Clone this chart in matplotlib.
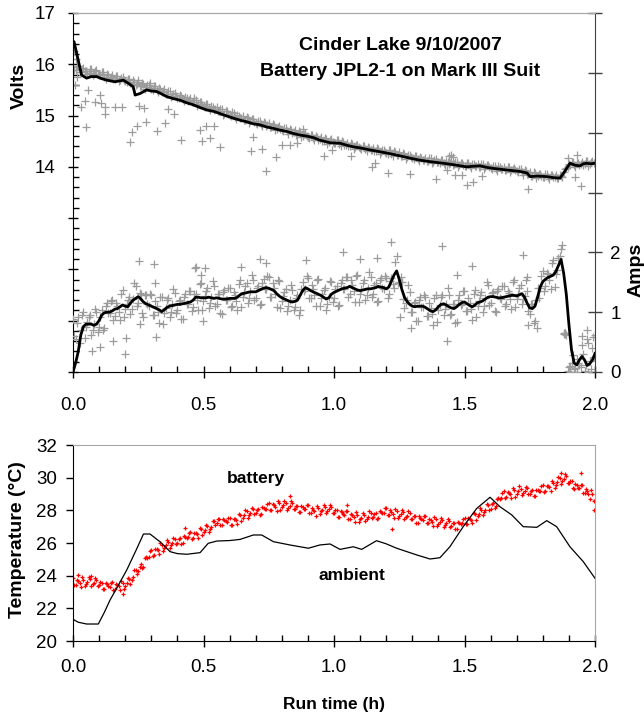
import numpy as np
import matplotlib
matplotlib.use("Agg")
import matplotlib.pyplot as plt
from matplotlib.ticker import FixedLocator, MultipleLocator, FuncFormatter, FormatStrFormatter

plt.rcParams['font.family'] = ['Liberation Sans', 'DejaVu Sans']

# ---------------- data ----------------
t_grid = np.round(np.arange(0, 201) * 0.01, 3)          # 0.00 .. 2.00 h
t_half = np.round(t_grid[:-1] + 0.005, 3)               # 0.005 .. 1.995 h

volt_line = [(0.0, 16.45), (0.004, 16.44), (0.02, 16.08), (0.033, 15.79), (0.052, 15.73),
             (0.07, 15.76), (0.09, 15.76), (0.11, 15.72), (0.13, 15.69), (0.161, 15.66),
             (0.193, 15.69), (0.215, 15.62), (0.231, 15.56), (0.238, 15.40), (0.257, 15.43),
             (0.282, 15.50), (0.30, 15.48), (0.32, 15.47), (0.34, 15.42), (0.359, 15.37),
             (0.385, 15.33), (0.41, 15.30), (0.435, 15.25), (0.461, 15.21), (0.49, 15.15),
             (0.512, 15.11), (0.54, 15.08), (0.563, 15.04), (0.59, 14.99), (0.614, 14.95),
             (0.64, 14.91), (0.665, 14.88), (0.69, 14.84), (0.716, 14.82), (0.74, 14.78),
             (0.768, 14.75), (0.79, 14.72), (0.819, 14.69), (0.845, 14.65), (0.87, 14.62),
             (0.895, 14.60), (0.921, 14.57), (0.946, 14.52), (0.985, 14.47), (1.023, 14.46),
             (1.05, 14.42), (1.074, 14.39), (1.10, 14.37), (1.138, 14.33), (1.17, 14.30),
             (1.202, 14.27), (1.23, 14.24), (1.266, 14.20), (1.30, 14.16), (1.33, 14.13),
             (1.37, 14.10), (1.419, 14.07), (1.46, 14.04), (1.508, 14.00), (1.53, 14.01),
             (1.559, 14.02), (1.585, 13.99), (1.61, 13.97), (1.66, 13.94), (1.713, 13.91),
             (1.74, 13.88), (1.751, 13.81), (1.78, 13.82), (1.815, 13.81), (1.84, 13.79),
             (1.866, 13.78), (1.885, 13.92), (1.904, 14.07), (1.925, 14.03), (1.943, 14.02),
             (1.955, 14.06), (1.968, 14.07), (1.985, 14.06), (2.0, 14.07)]

volt_band = [15.95, 15.88, 15.97, 15.85, 15.92, 15.86, 15.83, 15.90, 15.82, 15.88,
             15.80, 15.85, 15.76, 15.82, 15.74, 15.79, 15.72, 15.78, 15.70, 15.76,
             15.68, 15.72, 15.64, 15.70, 15.60, 15.66, 15.57, 15.62, 15.55, 15.60,
             15.52, 15.57, 15.50, 15.54, 15.46, 15.51, 15.42, 15.47, 15.39, 15.44,
             15.35, 15.40, 15.32, 15.37, 15.29, 15.34, 15.26, 15.30, 15.22, 15.27,
             15.18, 15.23, 15.14, 15.19, 15.11, 15.16, 15.08, 15.12, 15.04, 15.09,
             15.01, 15.06, 14.98, 15.02, 14.95, 15.00, 14.92, 14.96, 14.89, 14.94,
             14.86, 14.90, 14.83, 14.88, 14.80, 14.85, 14.77, 14.82, 14.74, 14.79,
             14.71, 14.76, 14.69, 14.73, 14.66, 14.71, 14.63, 14.68, 14.61, 14.66,
             14.59, 14.63, 14.56, 14.61, 14.53, 14.58, 14.51, 14.55, 14.49, 14.54,
             14.47, 14.52, 14.45, 14.50, 14.43, 14.47, 14.40, 14.45, 14.38, 14.43,
             14.36, 14.41, 14.34, 14.39, 14.33, 14.37, 14.31, 14.35, 14.29, 14.33,
             14.27, 14.32, 14.25, 14.30, 14.23, 14.28, 14.21, 14.26, 14.19, 14.24,
             14.17, 14.22, 14.15, 14.20, 14.13, 14.18, 14.12, 14.17, 14.10, 14.15,
             14.09, 14.14, 14.07, 14.12, 14.06, 14.11, 14.05, 14.09, 14.03, 14.08,
             14.02, 14.07, 14.02, 14.06, 14.01, 14.06, 14.00, 14.05, 13.99, 14.04,
             13.98, 14.02, 13.96, 14.01, 13.95, 14.00, 13.94, 13.99, 13.93, 13.97,
             13.92, 13.96, 13.90, 13.94, 13.86, 13.90, 13.83, 13.88, 13.82, 13.87,
             13.81, 13.86, 13.80, 13.85, 13.80, 13.84, 13.79, 13.83, 13.90, 13.98,
             14.06, 14.10, 14.04, 14.08, 14.03, 14.10, 14.05, 14.11, 14.06, 14.12,
             14.08]

volt_band_b = [15.88, 15.96, 15.84, 15.90, 15.87, 15.81, 15.90, 15.79, 15.86, 15.82,
               15.79, 15.84, 15.72, 15.79, 15.75, 15.72, 15.78, 15.67, 15.74, 15.70,
               15.66, 15.71, 15.60, 15.66, 15.61, 15.58, 15.63, 15.52, 15.59, 15.54,
               15.50, 15.57, 15.45, 15.51, 15.47, 15.43, 15.47, 15.36, 15.43, 15.38,
               15.34, 15.39, 15.28, 15.34, 15.30, 15.26, 15.31, 15.19, 15.26, 15.21,
               15.17, 15.22, 15.10, 15.16, 15.12, 15.08, 15.13, 15.01, 15.08, 15.03,
               15.00, 15.05, 14.93, 15.00, 14.96, 14.92, 14.97, 14.86, 14.93, 14.88,
               14.84, 14.90, 14.79, 14.85, 14.81, 14.77, 14.83, 14.71, 14.78, 14.73,
               14.70, 14.76, 14.64, 14.71, 14.67, 14.63, 14.69, 14.58, 14.65, 14.61,
               14.57, 14.63, 14.52, 14.58, 14.54, 14.51, 14.56, 14.45, 14.53, 14.49,
               14.46, 14.52, 14.41, 14.48, 14.43, 14.40, 14.46, 14.35, 14.42, 14.38,
               14.35, 14.41, 14.30, 14.37, 14.33, 14.30, 14.36, 14.25, 14.32, 14.28,
               14.26, 14.32, 14.21, 14.28, 14.24, 14.21, 14.27, 14.16, 14.23, 14.19,
               14.16, 14.22, 14.11, 14.18, 14.14, 14.11, 14.18, 14.07, 14.14, 14.10,
               14.08, 14.14, 14.03, 14.10, 14.07, 14.04, 14.10, 13.99, 14.07, 14.03,
               14.01, 14.08, 13.97, 14.05, 14.02, 13.99, 14.06, 13.95, 14.03, 13.99,
               13.96, 14.02, 13.92, 13.99, 13.96, 13.93, 14.00, 13.89, 13.96, 13.93,
               13.90, 13.96, 13.85, 13.91, 13.86, 13.83, 13.89, 13.78, 13.86, 13.82,
               13.80, 13.86, 13.76, 13.84, 13.80, 13.78, 13.84, 13.80, 13.95, 14.00,
               14.04, 14.10, 13.99, 14.07, 14.05, 14.04, 14.11, 14.02, 14.10, 14.08]

volt_outliers = [(0.005, 16.25), (0.01, 16.10), (0.015, 15.75), (0.008, 15.60),
                 (0.051, 14.78), (0.032, 15.16), (0.057, 15.49), (0.047, 15.29), (0.083, 15.27),
                 (0.102, 15.40), (0.108, 15.25), (0.121, 15.16), (0.124, 15.03), (0.16, 15.17),
                 (0.189, 15.17), (0.217, 14.48), (0.227, 14.67), (0.245, 14.80), (0.252, 15.19),
                 (0.272, 15.15), (0.281, 14.88), (0.249, 15.69), (0.296, 15.63), (0.323, 14.70),
                 (0.354, 14.85), (0.364, 15.13), (0.386, 15.03), (0.415, 14.52), (0.464, 15.34),
                 (0.487, 14.71), (0.494, 14.50), (0.511, 14.80), (0.524, 14.56), (0.54, 14.80),
                 (0.564, 14.39), (0.691, 14.59), (0.682, 14.30), (0.723, 14.34), (0.738, 13.91),
                 (0.777, 14.20), (0.80, 14.43), (0.831, 14.43), (0.857, 14.46), (0.882, 14.73),
                 (0.963, 14.22), (0.994, 14.33), (1.065, 14.21), (1.147, 14.00), (1.157, 14.07),
                 (1.206, 13.88), (1.29, 13.86), (1.391, 13.76), (1.464, 13.84), (1.489, 13.84),
                 (1.508, 13.65), (1.534, 13.71), (1.566, 13.82), (1.432, 13.93), (1.745, 13.56),
                 (1.898, 14.17), (1.93, 14.23), (1.923, 13.81), (1.945, 13.63), (1.457, 14.20),
                 (1.44, 14.22), (1.45, 14.24)]

amp_line = [0.00, 0.15, 0.34, 0.62, 0.76, 0.80, 0.80, 0.80, 0.78, 0.80,
            0.86, 0.95, 0.99, 1.00, 1.00, 1.02, 1.05, 1.06, 1.09, 1.12,
            1.10, 1.09, 1.15, 1.20, 1.23, 1.26, 1.22, 1.17, 1.14, 1.12,
            1.10, 1.08, 1.06, 1.04, 1.01, 1.04, 1.08, 1.10, 1.11, 1.12,
            1.13, 1.13, 1.14, 1.15, 1.16, 1.17, 1.20, 1.25, 1.25, 1.24,
            1.24, 1.24, 1.25, 1.24, 1.23, 1.24, 1.23, 1.22, 1.22, 1.22,
            1.23, 1.23, 1.23, 1.25, 1.29, 1.31, 1.32, 1.33, 1.34, 1.34,
            1.34, 1.36, 1.38, 1.40, 1.41, 1.40, 1.38, 1.36, 1.31, 1.27,
            1.24, 1.22, 1.20, 1.18, 1.17, 1.18, 1.20, 1.28, 1.36, 1.41,
            1.39, 1.36, 1.34, 1.32, 1.30, 1.28, 1.25, 1.22, 1.24, 1.30,
            1.33, 1.35, 1.37, 1.39, 1.40, 1.41, 1.43, 1.41, 1.39, 1.37,
            1.36, 1.37, 1.38, 1.39, 1.39, 1.40, 1.41, 1.43, 1.42, 1.41,
            1.39, 1.42, 1.52, 1.62, 1.69, 1.55, 1.38, 1.25, 1.18, 1.13,
            1.10, 1.09, 1.10, 1.10, 1.10, 1.08, 1.05, 1.02, 1.01, 1.04,
            1.09, 1.13, 1.14, 1.12, 1.09, 1.07, 1.06, 1.09, 1.13, 1.16,
            1.17, 1.14, 1.11, 1.09, 1.12, 1.16, 1.17, 1.19, 1.22, 1.25,
            1.26, 1.26, 1.25, 1.24, 1.24, 1.25, 1.26, 1.27, 1.28, 1.28,
            1.27, 1.29, 1.31, 1.25, 1.15, 1.07, 1.06, 1.10, 1.25, 1.42,
            1.51, 1.55, 1.58, 1.60, 1.62, 1.68, 1.78, 1.88, 1.65, 1.30,
            0.80, 0.37, 0.15, 0.12, 0.20, 0.26, 0.20, 0.11, 0.14, 0.20,
            0.31]

amp_pts_a = [0.88, 0.55, 0.92, 0.70, 1.01, 0.75, 0.92, 0.62, 0.80, 1.00,
             0.76, 1.03, 0.74, 1.15, 0.98, 1.20, 0.93, 1.11, 0.87, 1.37,
             1.05, 1.21, 0.97, 1.22, 1.43, 1.16, 1.30, 0.92, 1.29, 1.10,
             1.28, 0.96, 1.11, 0.82, 1.26, 0.99, 1.20, 0.92, 1.13, 1.32,
             1.03, 1.21, 0.89, 1.30, 1.14, 1.35, 1.08, 1.30, 1.03, 1.49,
             1.19, 1.36, 1.07, 1.26, 1.43, 1.14, 1.31, 0.97, 1.37, 1.20,
             1.41, 1.11, 1.28, 1.03, 1.54, 1.26, 1.44, 1.15, 1.36, 1.54,
             1.24, 1.44, 1.13, 1.55, 1.39, 1.58, 1.26, 1.41, 1.09, 1.52,
             1.19, 1.34, 1.02, 1.20, 1.37, 1.08, 1.28, 1.03, 1.51, 1.39,
             1.57, 1.24, 1.39, 1.10, 1.55, 1.23, 1.37, 1.04, 1.26, 1.50,
             1.23, 1.43, 1.12, 1.54, 1.38, 1.59, 1.31, 1.46, 1.17, 1.62,
             1.31, 1.49, 1.20, 1.41, 1.59, 1.30, 1.49, 1.18, 1.57, 1.39,
             1.57, 1.30, 1.57, 1.40, 1.94, 1.50, 1.50, 1.07, 1.20, 1.33,
             1.00, 1.17, 0.85, 1.25, 1.08, 1.26, 0.93, 1.07, 0.79, 1.29,
             1.04, 1.25, 0.96, 1.14, 1.29, 0.97, 1.14, 0.84, 1.28, 1.14,
             1.35, 1.02, 1.16, 0.87, 1.37, 1.11, 1.29, 1.01, 1.24, 1.45,
             1.16, 1.34, 1.00, 1.39, 1.22, 1.43, 1.14, 1.32, 1.06, 1.53,
             1.22, 1.41, 1.13, 1.27, 1.35, 0.97, 1.14, 0.85, 1.40, 1.40,
             1.69, 1.43, 1.63, 1.38, 1.87, 1.63, 1.90, 2.05, 0.64, 0.62,
             0.08, 0.15, 0.05, 0.22, 0.12, 0.45, 0.02, 0.55, 0.18, 0.40,
             0.62]

amp_pts_b = [0.60, 0.82, 0.48, 0.95, 0.56, 0.83, 0.96, 0.71, 1.06, 0.67,
             0.92, 0.71, 1.10, 0.99, 1.19, 0.87, 1.15, 1.01, 1.31, 0.92,
             1.13, 1.25, 1.06, 1.48, 1.10, 1.32, 0.98, 1.28, 1.13, 1.31,
             0.95, 1.18, 1.01, 1.26, 0.81, 1.07, 1.24, 1.01, 1.39, 0.99,
             1.19, 0.89, 1.25, 1.14, 1.35, 1.02, 1.30, 1.20, 1.47, 1.04,
             1.27, 1.40, 1.16, 1.52, 1.10, 1.30, 0.99, 1.33, 1.21, 1.41,
             1.08, 1.33, 1.18, 1.47, 1.09, 1.34, 1.48, 1.24, 1.62, 1.21,
             1.40, 1.12, 1.49, 1.39, 1.60, 1.25, 1.48, 1.31, 1.53, 1.07,
             1.27, 1.38, 1.11, 1.46, 1.04, 1.24, 0.96, 1.39, 1.35, 1.60,
             1.24, 1.46, 1.29, 1.54, 1.10, 1.31, 1.41, 1.13, 1.52, 1.17,
             1.39, 1.11, 1.48, 1.38, 1.59, 1.26, 1.53, 1.36, 1.61, 1.17,
             1.39, 1.53, 1.29, 1.67, 1.26, 1.46, 1.17, 1.54, 1.41, 1.60,
             1.24, 1.52, 1.47, 1.84, 1.49, 1.58, 1.22, 1.16, 1.46, 1.00,
             1.16, 0.85, 1.21, 1.09, 1.29, 0.93, 1.15, 0.97, 1.23, 0.84,
             1.12, 1.29, 1.05, 1.40, 0.96, 1.13, 0.82, 1.20, 1.12, 1.35,
             1.02, 1.24, 1.06, 1.31, 0.92, 1.19, 1.33, 1.10, 1.50, 1.12,
             1.32, 1.02, 1.36, 1.23, 1.43, 1.10, 1.36, 1.22, 1.50, 1.08,
             1.30, 1.45, 1.22, 1.53, 1.02, 1.13, 0.82, 1.21, 1.24, 1.61,
             1.36, 1.65, 1.53, 1.82, 1.42, 1.71, 1.94, 2.12, 0.66, 0.02,
             0.10, 0.28, 0.06, 0.15, 0.08, 0.30, 0.12, 0.48, 0.05, 0.25]

amp_outliers = [(0.253, 1.86), (0.31, 1.81), (0.315, 1.48), (0.198, 0.30), (0.073, 0.35),
                (0.105, 0.41), (0.153, 0.52), (0.204, 0.56), (0.317, 0.59), (0.466, 1.74),
                (0.504, 1.73), (0.492, 1.62), (0.642, 1.76), (0.50, 0.85), (0.255, 0.81),
                (0.471, 1.76), (0.716, 1.89), (0.738, 1.82), (0.891, 1.88), (1.217, 2.17),
                (1.036, 2.00), (1.413, 2.10), (1.725, 1.95), (1.527, 1.77), (1.432, 0.52),
                (1.295, 0.74), (1.253, 0.92), (1.776, 0.74), (1.745, 0.78), (1.10, 1.89),
                (1.163, 1.91), (1.949, 0.61), (1.968, 0.70), (1.994, 0.59), (1.47, 1.62),
                (1.738, 1.59), (1.882, 0.65), (1.886, 0.63), (1.884, 0.66), (1.905, 0.00),
                (1.93, 0.00), (1.975, 0.00)]

batt_pts_a = [23.88, 23.45, 23.67, 23.32, 23.76, 23.52, 23.91, 23.36, 23.58, 23.74,
              23.41, 23.58, 23.16, 23.47, 23.33, 23.60, 23.19, 23.44, 23.11, 23.58,
              23.37, 23.87, 23.48, 23.94, 24.35, 24.26, 24.70, 24.56, 25.14, 25.17,
              25.60, 25.28, 25.62, 25.35, 25.88, 25.72, 26.20, 25.72, 26.02, 26.26,
              26.00, 26.28, 25.97, 26.38, 26.34, 26.68, 26.31, 26.60, 26.31, 26.83,
              26.66, 27.12, 26.66, 27.00, 27.35, 27.23, 27.50, 27.11, 27.43, 27.30,
              27.56, 27.13, 27.44, 27.17, 27.71, 27.56, 28.04, 27.56, 27.86, 28.10,
              27.84, 28.10, 27.75, 28.15, 28.09, 28.42, 28.04, 28.32, 27.97, 28.42,
              28.19, 28.59, 28.05, 28.29, 28.44, 28.09, 28.28, 27.88, 28.20, 28.06,
              28.31, 27.85, 28.05, 27.68, 28.14, 27.93, 28.34, 27.82, 28.07, 28.20,
              27.83, 28.00, 27.59, 27.89, 27.73, 27.97, 27.50, 27.70, 27.31, 27.73,
              27.46, 27.83, 27.34, 27.62, 27.85, 27.57, 27.84, 27.52, 27.91, 27.85,
              28.17, 27.71, 27.90, 27.52, 27.93, 27.67, 28.03, 27.46, 27.67, 27.82,
              27.46, 27.65, 27.24, 27.56, 27.41, 27.66, 27.20, 27.40, 27.02, 27.45,
              27.19, 27.56, 26.99, 27.21, 27.36, 27.02, 27.22, 26.83, 27.25, 27.21,
              27.55, 27.19, 27.49, 27.21, 27.76, 27.63, 28.13, 27.70, 28.04, 28.32,
              28.10, 28.46, 28.24, 28.73, 28.77, 29.19, 28.79, 29.06, 28.74, 29.22,
              29.03, 29.46, 28.92, 29.16, 29.34, 29.02, 29.24, 28.87, 29.22, 29.18,
              29.53, 29.17, 29.46, 29.18, 29.70, 29.56, 30.05, 29.60, 29.93, 30.10,
              29.67, 29.78, 29.29, 29.53, 29.34, 29.54, 29.04, 29.19, 28.71, 29.02,
              28.66]

batt_pts_b = [23.43, 23.75, 23.57, 23.90, 23.36, 23.63, 23.77, 23.48, 23.86, 23.39,
              23.60, 23.20, 23.56, 23.37, 23.58, 23.15, 23.49, 23.34, 23.69, 23.18,
              23.53, 23.81, 23.71, 24.34, 24.12, 24.56, 24.44, 25.08, 25.11, 25.50,
              25.21, 25.64, 25.56, 25.97, 25.52, 25.87, 26.09, 25.87, 26.33, 25.94,
              26.22, 25.93, 26.40, 26.32, 26.62, 26.26, 26.64, 26.53, 26.93, 26.46,
              26.80, 27.02, 26.83, 27.37, 27.10, 27.45, 27.11, 27.50, 27.32, 27.54,
              27.11, 27.47, 27.38, 27.80, 27.35, 27.71, 27.93, 27.71, 28.17, 27.78,
              28.05, 27.73, 28.18, 28.08, 28.37, 28.00, 28.37, 28.22, 28.55, 28.02,
              28.30, 28.45, 28.17, 28.56, 28.08, 28.27, 27.89, 28.27, 28.09, 28.30,
              27.85, 28.14, 27.94, 28.27, 27.75, 28.05, 28.21, 27.95, 28.33, 27.83,
              28.00, 27.60, 27.97, 27.77, 27.96, 27.50, 27.79, 27.58, 27.88, 27.31,
              27.56, 27.72, 27.48, 27.93, 27.52, 27.79, 27.49, 27.94, 27.84, 28.12,
              27.71, 27.99, 27.79, 28.08, 27.52, 27.76, 27.88, 27.57, 27.94, 27.45,
              27.64, 27.25, 27.63, 27.44, 27.65, 27.20, 27.49, 27.29, 27.59, 27.04,
              27.29, 27.41, 27.10, 27.48, 27.00, 27.20, 26.83, 27.27, 27.19, 27.49,
              27.14, 27.53, 27.43, 27.84, 27.41, 27.79, 28.05, 27.87, 28.37, 28.02,
              28.36, 28.16, 28.71, 28.71, 29.09, 28.76, 29.11, 28.98, 29.34, 28.84,
              29.16, 29.32, 29.04, 29.44, 28.99, 29.21, 28.86, 29.27, 29.16, 29.47,
              29.12, 29.50, 29.40, 29.80, 29.35, 29.72, 29.96, 29.77, 30.21, 29.70,
              29.81, 29.34, 29.64, 29.39, 29.55, 29.06, 29.30, 29.03, 29.22, 28.56]

batt_outliers = [(0.83, 28.85), (1.945, 30.31), (1.221, 26.84), (1.998, 28.05), (0.02, 24.05),
                 (0.07, 24.00), (0.19, 22.90), (1.05, 28.35), (0.43, 26.90), (1.87, 30.30)]

ambient_line = [(0.0, 21.33), (0.02, 21.15), (0.052, 21.04), (0.097, 21.04), (0.12, 21.75),
                (0.142, 22.51), (0.175, 23.45), (0.206, 24.35), (0.24, 25.50), (0.27, 26.55),
                (0.295, 26.55), (0.333, 26.08), (0.372, 25.47), (0.40, 25.35), (0.436, 25.31),
                (0.487, 25.41), (0.518, 25.98), (0.551, 26.12), (0.60, 26.15), (0.64, 26.22),
                (0.691, 26.49), (0.723, 26.49), (0.768, 26.08), (0.831, 25.88), (0.902, 25.68),
                (0.946, 25.88), (0.985, 25.94), (1.023, 25.61), (1.074, 25.77), (1.106, 25.61),
                (1.163, 26.14), (1.20, 25.95), (1.24, 25.68), (1.317, 25.27), (1.368, 25.02),
                (1.406, 25.10), (1.444, 25.77), (1.495, 27.00), (1.547, 28.12), (1.598, 28.80),
                (1.636, 28.22), (1.681, 27.72), (1.725, 27.00), (1.777, 26.96), (1.815, 27.37),
                (1.853, 27.00), (1.904, 25.77), (1.955, 24.86), (2.0, 23.84)]

x_ticks = [0.0, 0.5, 1.0, 1.5, 2.0]
volt_ticks = [10, 11, 12, 13, 14, 15, 16, 17]
amp_ticks = [0, 1, 2, 3, 4, 5, 6]
temp_ticks = [20, 22, 24, 26, 28, 30, 32]

# ---------------- figure ----------------
W, H = 644, 715
fig = plt.figure(figsize=(W / 100, H / 100), dpi=100)

GRAY = '#9c9c9c'
SPINE_GRAY = '#a6a6a6'
TICK_FS = 13.5
PLUS = dict(linestyle='none', marker='+', ms=5.5, mew=0.9, color=GRAY, zorder=2)
RED_PLUS = dict(linestyle='none', marker='+', ms=3.5, mew=0.9, color='red', zorder=2)

ax1 = fig.add_axes([73 / W, 1 - 372 / H, 522 / W, 359 / H])
ax2 = ax1.twinx()
ax3 = fig.add_axes([73 / W, 1 - 641 / H, 522 / W, 196 / H])

# voltage
vl = np.array(volt_line)
vo = np.array(volt_outliers)
ax1.plot(t_grid, volt_band, **PLUS)
ax1.plot(t_half, volt_band_b, **PLUS)
ax1.plot(vo[:, 0], vo[:, 1], **PLUS)
ax1.plot(vl[:, 0], vl[:, 1], color='black', lw=2.0, zorder=3)

# current
ao = np.array(amp_outliers)
ax2.plot(t_grid, amp_pts_a, **PLUS)
ax2.plot(t_half, amp_pts_b, **PLUS)
ax2.plot(ao[:, 0], ao[:, 1], **PLUS)
ax2.plot(t_grid, amp_line, color='black', lw=2.0, zorder=3)

# temperature
bo = np.array(batt_outliers)
al = np.array(ambient_line)
ax3.plot(t_grid, batt_pts_a, **RED_PLUS)
ax3.plot(t_half, batt_pts_b, **RED_PLUS)
ax3.plot(bo[:, 0], bo[:, 1], **RED_PLUS)
ax3.plot(al[:, 0], al[:, 1], color='black', lw=0.9, zorder=3)

# ---------------- axes styling ----------------
for ax in (ax1, ax3):
    ax.set_xlim(0, 2)
    ax.xaxis.set_major_locator(FixedLocator(x_ticks))
    ax.xaxis.set_minor_locator(MultipleLocator(0.1))
    ax.xaxis.set_major_formatter(FormatStrFormatter('%.1f'))
    ax.tick_params(axis='x', which='major', direction='inout', length=8.6, width=1,
                   color='black', labelsize=TICK_FS)
    ax.tick_params(axis='x', which='minor', direction='in', length=4.3, width=1, color='black')
    ax.spines['left'].set_color('black')
    ax.spines['bottom'].set_color('black')

ax1.tick_params(axis='x', which='major', pad=14)
ax3.tick_params(axis='x', which='major', pad=9)

ax1.set_ylim(10, 17)
ax1.yaxis.set_major_locator(FixedLocator(volt_ticks))
ax1.yaxis.set_minor_locator(MultipleLocator(0.2))
ax1.yaxis.set_major_formatter(FuncFormatter(lambda v, p: f'{v:.0f}' if v >= 14 else ''))
ax1.tick_params(axis='y', which='major', direction='inout', length=7.2, width=1,
                labelsize=TICK_FS, pad=9)
ax1.tick_params(axis='y', which='minor', direction='in', length=4.3, width=1)
ax1.spines['top'].set_color(SPINE_GRAY)
ax1.spines['right'].set_visible(False)

ax2.set_ylim(0, 6)
ax2.yaxis.set_major_locator(FixedLocator(amp_ticks))
ax2.yaxis.set_major_formatter(FuncFormatter(lambda v, p: f'{v:.0f}' if v <= 2 else ''))
ax2.tick_params(axis='y', which='major', direction='inout', length=10, width=1,
                color='#404040', labelsize=TICK_FS, pad=6)
ax2.spines['right'].set_color('#404040')
ax2.spines['top'].set_color(SPINE_GRAY)
ax2.spines['left'].set_visible(False)
ax2.spines['bottom'].set_visible(False)

ax3.set_ylim(20, 32)
ax3.yaxis.set_major_locator(FixedLocator(temp_ticks))
ax3.tick_params(axis='y', which='major', direction='out', length=5, width=1,
                labelsize=TICK_FS, pad=6.5)
ax3.spines['top'].set_color(SPINE_GRAY)
ax3.spines['right'].set_color(SPINE_GRAY)

# ---------------- texts ----------------
def ftext(x, y, s, **kw):
    fig.text(x / W, 1 - y / H, s, ha='center', va='center', fontweight='bold', **kw)

ftext(400, 45, 'Cinder Lake 9/10/2007', fontsize=14)
ftext(400, 72, 'Battery JPL2-1 on Mark III Suit', fontsize=14)
ftext(19, 86, 'Volts', fontsize=14, rotation=90)
ftext(636, 270, 'Amps', fontsize=14, rotation=90)
ftext(18, 540, 'Temperature (°C)', fontsize=14, rotation=90)
ftext(334, 705, 'Run time (h)', fontsize=12.5)
ftext(256, 479, 'battery', fontsize=12.5)
ftext(352, 575, 'ambient', fontsize=12.5)

fig.savefig('out.png', dpi=100)
